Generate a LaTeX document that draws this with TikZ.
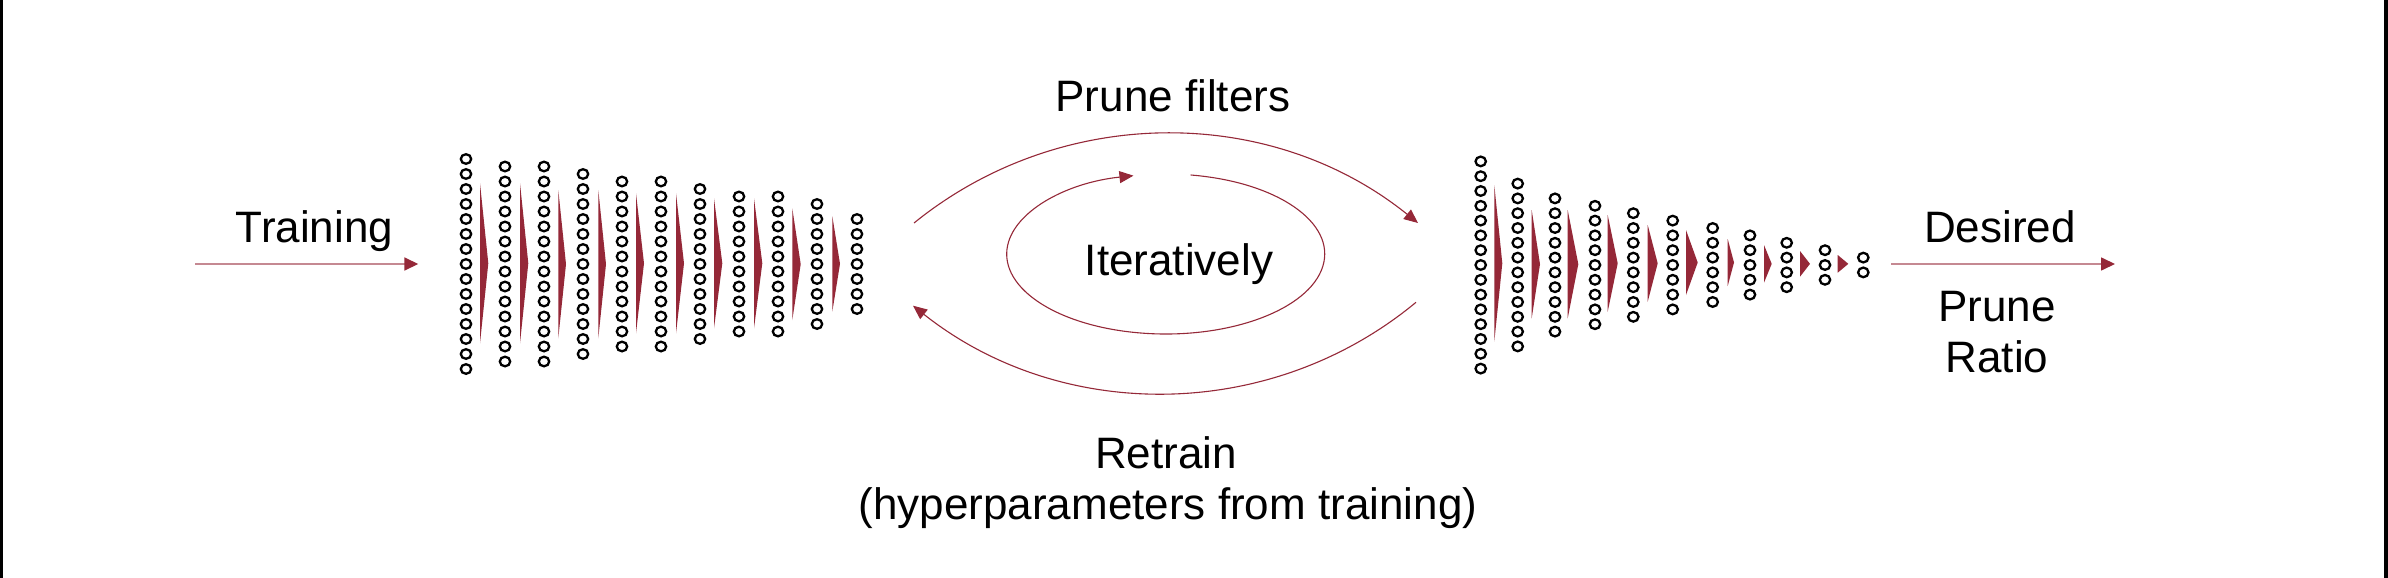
\documentclass[tikz,border=0pt]{standalone}
\usepackage{fontspec}
\setmainfont{Liberation Sans}
\usetikzlibrary{arrows.meta}
\definecolor{dred}{RGB}{149,40,56}
\begin{document}
\begin{tikzpicture}[x=1pt,y=-1pt,
  lbl/.style={font=\fontsize{44}{52}\selectfont, inner sep=0pt, anchor=base},
  neuron/.style={draw=black, line width=2.3pt},
  tri/.style={fill=dred, draw=none},
  link/.style={draw=dred!55!white, line width=1.6pt, -{Triangle[length=14pt,width=13pt,color=dred]}},
  loopline/.style={draw=dred, line width=1.1pt, -{Triangle[length=14pt,width=12pt,color=dred]}}]
\useasboundingbox (0,0) rectangle (2388,578);
\fill[white] (0,0) rectangle (2388,578);
% frame edges
\fill[black] (0,0) rectangle (2.5,578);
\fill[black] (2384,0) rectangle (2388,578);

% left network
\foreach \x/\n in {466/15, 505/14, 544/14, 583/13, 622/12, 661/12, 700/11, 739/10, 778/10, 817/9, 857/7} {
  \foreach \i in {1,...,\n} {
    \draw[neuron] (\x, {264 + (\i - (\n+1)/2)*15}) ellipse [x radius=5.2, y radius=4.8];
  }
}
\foreach \a/\b/\t/\u in {480/488.3/183.3/343.3, 520/528.3/183.3/343.3, 558.3/566/190/338.3, 598.3/606/190/338.3, 636/644/193.3/333.3, 676/684/193.3/333.3, 714/722.3/198.3/328.3, 754/762.3/198.3/328.3, 792.3/800.7/208.3/320, 832.3/840/216/311.7} {
  \fill[tri] (\a,\t) -- (\b,{(\t+\u)/2}) -- (\a,\u) -- cycle;
}

% right network
\foreach \x/\n in {1480.7/15, 1517.7/12, 1555/10, 1595/9, 1633.3/8, 1672.7/7, 1712.7/6, 1750/5, 1786.7/4, 1825/3, 1863.3/2} {
  \foreach \i in {1,...,\n} {
    \draw[neuron] (\x, {265 + (\i - (\n+1)/2)*14.8}) ellipse [x radius=5.2, y radius=4.8];
  }
}
\foreach \a/\b/\t/\u in {1494.3/1502.3/185/341.7, 1531.7/1540/210/318.3, 1567.7/1578.3/210/318.3, 1607.7/1617.7/215/311.7, 1647.7/1657.7/225/301.7, 1686/1697.7/230/295, 1727.7/1734/239/286, 1764/1771.7/245/282.7, 1800/1810/251/276.7, 1837.7/1848.3/255/272.7} {
  \fill[tri] (\a,\t) -- (\b,{(\t+\u)/2}) -- (\a,\u) -- cycle;
}

% labels
\node[lbl] (train) at (314.5,242.7) {Training};
\node[lbl] (prune) at (1173,111.7) {Prune filters};
\node[lbl] (iter) at (1179,275) {Iteratively};
\node[lbl] (desired) at (2000,242.7) {Desired};
\node[lbl] (ratioa) at (1997,321.7) {Prune};
\node[lbl] (ratiob) at (1997,372.7) {Ratio};
\node[lbl] (retrain) at (1166,468.5) {Retrain};
\node[lbl] (hyper) at (1168,519) {(hyperparameters from training)};

% connector ends
\coordinate (trainS) at (195,264);
\coordinate (trainE) at (418.3,264);
\coordinate (outS) at (1891,264);
\coordinate (outE) at (2115,264);
\coordinate (topS) at (914,223);
\coordinate (topE) at (1418,223);
\coordinate (botS) at (1416,302.3);
\coordinate (botE) at (913,305.7);
\coordinate (ec) at (1165.7,254);

\draw[link] (trainS) -- (trainE);
\draw[link] (outS) -- (outE);
\draw[loopline] (topS) .. controls (1060.6,104.2) and (1270.4,104.2) .. (topE);
\draw[loopline] (botS) .. controls (1270.4,422.8) and (1060.6,422.8) .. (botE);
\draw[loopline] (ec) ++(-81:159 and 80) arc[start angle=-81, end angle=258.3, x radius=159, y radius=80];
\end{tikzpicture}
\end{document}
